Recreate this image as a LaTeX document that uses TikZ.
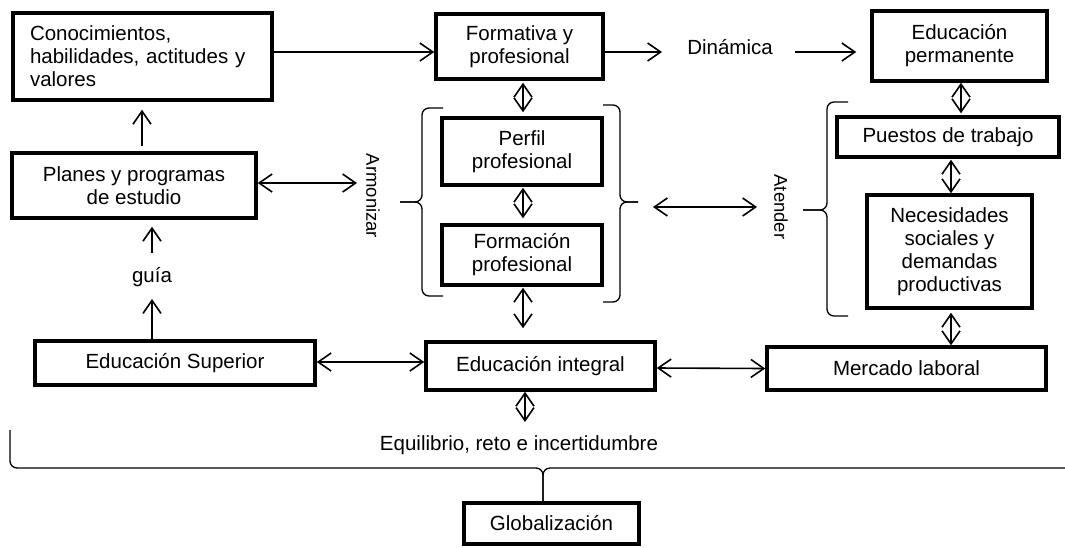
\documentclass[tikz,border=0pt]{standalone}
\usepackage{fontspec}
\setmainfont{Liberation Sans}
\usetikzlibrary{arrows.meta}
\begin{document}
\begin{tikzpicture}[x=1pt,y=-1pt,
 box/.style={draw, line width=3.5pt, align=center, inner sep=2pt, font=\fontsize{20.5}{23}\selectfont},
 lbl/.style={inner sep=1pt, font=\fontsize{20.5}{23}\selectfont},
 rlbl/.style={inner sep=1pt, rotate=-90, font=\fontsize{18.5}{21}\selectfont},
 arr/.style={line width=1.6pt, -{Straight Barb[length=13pt,width=18pt]}},
 darr/.style={line width=1.6pt, {Straight Barb[length=13pt,width=18pt]}-{Straight Barb[length=13pt,width=18pt]}},
 brc/.style={line width=1.3pt, rounded corners=7pt}]
\useasboundingbox (0,0) rectangle (1065,547);
% boxes
\node[box, align=left, text width=225pt, inner xsep=17pt, minimum height=87pt] (conoc) at (142.5,56.5) {Conocimientos,\\habilidades, actitudes y\\valores};
\node[box, minimum width=244pt, minimum height=65pt] (planes) at (134,185.5) {Planes y programas\\de estudio};
\node[box, minimum width=280pt, minimum height=44pt] (es) at (175,363) {Educación Superior};
\node[box, minimum width=229pt, minimum height=48pt] (integral) at (540.5,366) {Educación integral};
\node[box, minimum width=279pt, minimum height=43pt] (mercado) at (906.5,368.5) {Mercado laboral};
\node[box, minimum width=175pt, minimum height=41pt] (glob) at (551.5,523.5) {Globalización};
\node[box, minimum width=167pt, minimum height=65pt] (formativa) at (519.5,46.5) {Formativa y\\profesional};
\node[box, minimum width=160pt, minimum height=67pt] (perfil) at (522,151.5) {Perfil\\profesional};
\node[box, minimum width=160pt, minimum height=60pt] (formacion) at (522,255) {Formación\\profesional};
\node[box, minimum width=175pt, minimum height=70pt] (perm) at (959.5,46) {Educación\\permanente};
\node[box, minimum width=222pt, minimum height=40pt] (puestos) at (948,137) {Puestos de trabajo};
\node[box, minimum width=165pt, minimum height=113pt] (neces) at (949.5,251.5) {Necesidades\\sociales y\\demandas\\productivas};
% labels
\node[lbl] (dinamica) at (730,47) {Dinámica};
\node[rlbl] (armonizar) at (373,196) {Armonizar};
\node[rlbl] (atender) at (781,207) {Atender};
\node[lbl] (guia) at (152,277) {guía};
\node[lbl] (equil) at (519,445) {Equilibrio, reto e incertidumbre};
% brace tips
\coordinate (ltip) at (400,202);
\coordinate (rtip) at (638,202);
\coordinate (atip) at (803,210);
\coordinate (btip) at (543,503);
% braces
\draw[brc] (443,108) -- (422,108) -- (422,202) -- (ltip);
\draw[brc] (ltip) -- (422,202) -- (422,296) -- (443,296);
\draw[brc] (603,105) -- (620,105) -- (620,202) -- (rtip);
\draw[brc] (rtip) -- (620,202) -- (620,302) -- (603,302);
\draw[brc] (848,102) -- (827,102) -- (827,210) -- (atip);
\draw[brc] (atip) -- (827,210) -- (827,316) -- (848,316);
\draw[brc] (10,430) -- (10,468) -- (543,468) -- (btip);
\draw[brc] (btip) -- (543,468) -- (1070,468);
% connectors
\draw[arr] ([yshift=4.5pt]conoc.east) -- ([yshift=-5.5pt]formativa.west);
\draw[arr, shorten <=5pt, shorten >=8pt] ([xshift=8pt]planes.north) -- ([xshift=-0.5pt]conoc.south);
\draw[arr, shorten >=7pt] ([yshift=24pt]guia.center) -- ([xshift=18pt]planes.south);
\draw[arr] ([xshift=-23pt]es.north) -- ([yshift=-22pt]guia.center);
\draw[darr] ([yshift=2.5pt]planes.east) -- ([xshift=-16pt,yshift=13pt]armonizar.center);
\draw[arr] ([yshift=-5.5pt]formativa.east) -- ([xshift=-68pt,yshift=-5pt]dinamica.center);
\draw[arr, shorten >=14pt] ([xshift=65pt,yshift=-5pt]dinamica.center) -- ([yshift=-6pt]perm.west);
\draw[darr, shorten <=2pt, shorten >=4pt] ([xshift=3.5pt]formativa.south) -- ([xshift=1pt]perfil.north);
\draw[darr, shorten <=1pt, shorten >=5pt] ([xshift=1pt]perfil.south) -- ([xshift=1pt]formacion.north);
\draw[darr, shorten <=1pt, shorten >=12pt] ([xshift=1pt]formacion.south) -- ([xshift=-17.5pt]integral.north);
\draw[darr] ([xshift=-15.5pt]integral.south) -- ([xshift=6pt,yshift=23pt]equil.center);
\draw[darr] ([yshift=1pt]es.east) -- ([yshift=4pt]integral.west);
\draw[darr] ([yshift=-2pt]integral.east) -- (mercado.west);
\draw[darr, shorten <=3pt] ([xshift=1.5pt]neces.south) -- ([xshift=44.5pt]mercado.north);
\draw[darr, shorten >=2pt] ([xshift=1.5pt]perm.south) -- ([xshift=13pt]puestos.north);
\draw[darr, shorten <=1pt] ([xshift=3pt]puestos.south) -- ([xshift=1.5pt]neces.north);
\draw[darr] ([xshift=15pt,yshift=-5pt]rtip) -- ([xshift=-24pt]atender.center);
\end{tikzpicture}
\end{document}
